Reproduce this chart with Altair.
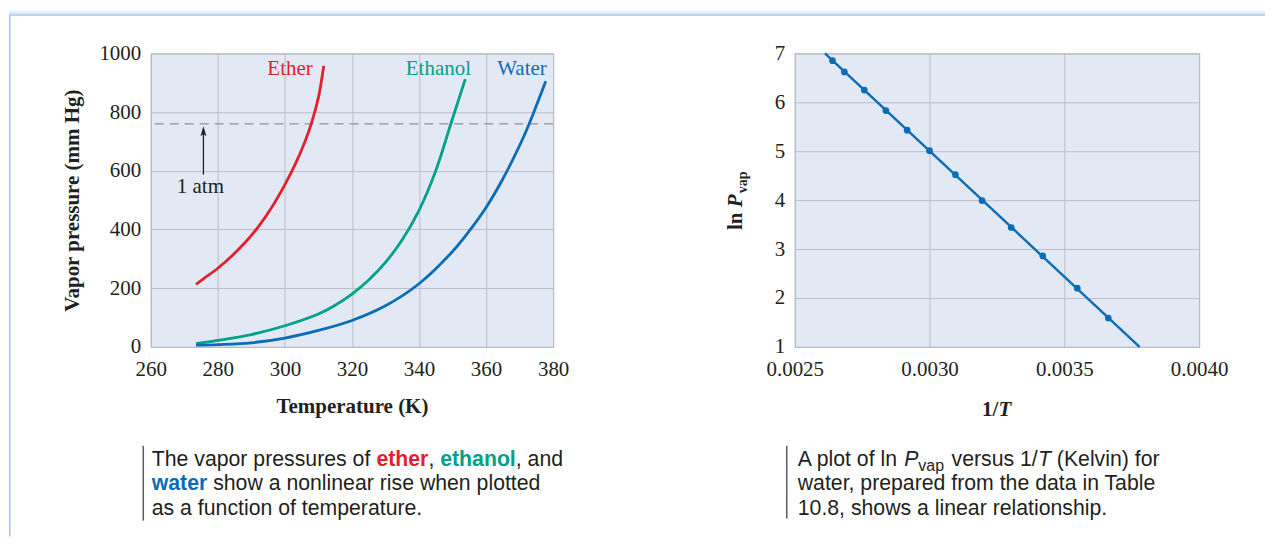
import altair as alt
import pandas as pd

# ---------------- data ----------------
ether_T = [273.5, 276, 280, 284, 288, 292, 296, 300, 303, 306, 308, 310, 311.6]
ether_P = [213, 234, 268, 308, 354, 408, 474, 553, 620, 700, 765, 850, 958]

ethanol_T = [273.5, 280, 290, 300, 310, 315, 320, 325, 330, 335, 340, 345, 349.5, 353.8]
ethanol_P = [11, 22, 42, 72, 112, 142, 180, 228, 288, 365, 465, 600, 760, 912]

water_T = [273.5, 280, 290, 300, 310, 320, 330, 340, 350, 355, 360, 365, 370, 372.5, 377.8]
water_P = [6, 8, 14, 30, 56, 90, 140, 215, 325, 395, 475, 572, 686, 750, 905]

atm_mmHg = 760

inv_T = [0.002640, 0.002684, 0.002758, 0.002838, 0.002917, 0.003000,
         0.003096, 0.003195, 0.003303, 0.003420, 0.003548, 0.003663]
ln_P = [6.85, 6.62, 6.25, 5.83, 5.43, 5.01, 4.52, 3.99, 3.44, 2.86, 2.20, 1.59]
fit_inv_T = [0.002612, 0.003779]
fit_ln_P = [7.0, 1.0]

temp_ticks = [260, 280, 300, 320, 340, 360, 380]
press_ticks = [0, 200, 400, 600, 800, 1000]
invT_ticks = [0.0025, 0.0030, 0.0035, 0.0040]
lnP_ticks = [1, 2, 3, 4, 5, 6, 7]

series_names = ["Ether", "Ethanol", "Water"]
series_colors = ["#e2202e", "#00a08b", "#0a6cb5"]

TEXT = "#231f20"
SERIF = "Liberation Serif"
SANS = "Liberation Sans"
RED, TEAL, BLUE = series_colors

# ---------------- helpers ----------------
dummy = pd.DataFrame({"k": [0]})


def txt(text, x, y, size=21.3, color=TEXT, weight="normal", style="normal",
        font=SANS, align="left", baseline="alphabetic", angle=0):
    return alt.Chart(dummy).mark_text(
        text=text, font=font, fontSize=size, fontWeight=weight, fontStyle=style,
        color=color, align=align, baseline=baseline, angle=angle
    ).encode(x=alt.value(x), y=alt.value(y))


def vbar(x, y1, y2, color="#5c5c5c", width=1.5):
    return alt.Chart(dummy).mark_rule(color=color, strokeWidth=width).encode(
        x=alt.value(x), y=alt.value(y1), y2=alt.value(y2))


# ---------------- left panel ----------------
curves = pd.concat([
    pd.DataFrame({"series": "Ether", "T": ether_T, "P": ether_P}),
    pd.DataFrame({"series": "Ethanol", "T": ethanol_T, "P": ethanol_P}),
    pd.DataFrame({"series": "Water", "T": water_T, "P": water_P}),
])

xsL = alt.Scale(domain=[260, 380], nice=False, zero=False)
ysL = alt.Scale(domain=[0, 1000], nice=False, zero=False)

xL = alt.X("T:Q", scale=xsL, axis=alt.Axis(values=temp_ticks, title="Temperature (K)"))
yL = alt.Y("P:Q", scale=ysL, axis=alt.Axis(values=press_ticks, format="d",
                                          title="Vapor pressure (mm Hg)"))

lines = alt.Chart(curves).mark_line(interpolate="catmull-rom", strokeWidth=2.8).encode(
    x=xL, y=yL,
    color=alt.Color("series:N", scale=alt.Scale(domain=series_names, range=series_colors), legend=None),
)


def dx(v):
    return alt.X(datum=v, scale=xsL)


def dy(v):
    return alt.Y(datum=v, scale=ysL)


atm_line = alt.Chart(dummy).mark_rule(color="#8d9197", strokeWidth=1.2, strokeDash=[9, 6]).encode(
    y=dy(atm_mmHg))
arrow_shaft = alt.Chart(dummy).mark_rule(color=TEXT, strokeWidth=1.3).encode(
    x=dx(275.7), y=dy(587), y2=alt.Y2(datum=742))
arrow_head = alt.Chart(dummy).mark_point(
    shape="M0,-1L0.6,1L0,0.55L-0.6,1Z", filled=True, size=100, color=TEXT, opacity=1, strokeWidth=0
).encode(x=dx(275.7), y=dy(735))
atm_text = alt.Chart(dummy).mark_text(text="1 atm", font=SERIF, fontSize=21, color=TEXT,
                                      align="center", baseline="middle").encode(
    x=dx(274.8), y=dy(545))


def series_label(name, color, t_right):
    return alt.Chart(dummy).mark_text(text=name, font=SERIF, fontSize=21, color=color,
                                      align="right", baseline="middle").encode(
        x=dx(t_right), y=dy(947))


# frame (page white card with light blue border)
frame_glow = alt.Chart(dummy).mark_rect(
    color=alt.LinearGradient(gradient="linear",
                             stops=[alt.GradientStop(color="#ffffff", offset=0),
                                    alt.GradientStop(color="#d3e2f2", offset=1)],
                             x1=0, x2=0, y1=0, y2=1)
).encode(x=alt.value(-142), x2=alt.value(1116), y=alt.value(-44), y2=alt.value(-39))
frame_top = alt.Chart(dummy).mark_rule(color="#a6c6ea", strokeWidth=1.5).encode(
    x=alt.value(-141.2), x2=alt.value(1116), y=alt.value(-38.5))
frame_left = alt.Chart(dummy).mark_rule(color="#a6c6ea", strokeWidth=1.5).encode(
    x=alt.value(-141.2), y=alt.value(-38.5), y2=alt.value(484))

# left caption (origin = left plot top-left at page 150,52)
left_caption = [
    vbar(-7.5, 393, 468),
    txt("The vapor pressures of", 1, 413),
    txt("ether", 226, 413, color=RED, weight="bold"),
    txt(",", 278.1, 413),
    txt("ethanol", 289.9, 413, color=TEAL, weight="bold"),
    txt(", and", 365.6, 413),
    txt("water", 1, 437.5, color=BLUE, weight="bold"),
    txt("show a nonlinear rise when plotted", 62.5, 437.5),
    txt("as a function of temperature.", 1, 462),
]

left = alt.layer(
    frame_glow, frame_top, frame_left,
    atm_line, arrow_shaft, arrow_head, atm_text,
    lines,
    series_label("Ether", RED, 308.3),
    series_label("Ethanol", TEAL, 355.5),
    series_label("Water", BLUE, 378.1),
    *left_caption,
).properties(width=403, height=294)

# ---------------- right panel ----------------
pts = pd.DataFrame({"x": inv_T, "y": ln_P})
fit = pd.DataFrame({"x": fit_inv_T, "y": fit_ln_P})

xR = alt.X("x:Q", scale=alt.Scale(domain=[0.0025, 0.0040], nice=False, zero=False),
           axis=alt.Axis(values=invT_ticks, format=".4f", title=None))
yR = alt.Y("y:Q", scale=alt.Scale(domain=[1, 7], nice=False, zero=False),
           axis=alt.Axis(values=lnP_ticks, title=None))

fit_line = alt.Chart(fit).mark_line(color=BLUE, strokeWidth=2.4).encode(x=xR, y=yR)
points = alt.Chart(pts).mark_circle(color=BLUE, size=45, opacity=1).encode(x=xR, y=yR)

right_titles = [
    txt("ln", -53, 177, size=21, font=SERIF, weight="bold", angle=270),
    txt("P", -53, 154.2, size=21, font=SERIF, weight="bold", style="italic", angle=270),
    txt("vap", -48, 140.2, size=14, font=SERIF, weight="bold", angle=270),
    txt("1/", 204, 363, size=21, font=SERIF, weight="bold", align="right"),
    txt("T", 204, 363, size=21, font=SERIF, weight="bold", style="italic"),
]

right_caption = [
    vbar(-8, 393, 466),
    txt("A plot of ln", 3, 413),
    txt("P", 109.6, 413, style="italic"),
    txt("vap", 123.8, 418, size=16),
    txt("versus 1/", 157, 413),
    txt("T", 243.6, 413, style="italic"),
    txt("(Kelvin) for", 262.5, 413),
    txt("water, prepared from the data in Table", 3, 437.5),
    txt("10.8, shows a linear relationship.", 3, 462),
]

right = alt.layer(fit_line, points, *right_titles, *right_caption).properties(width=405, height=294)

chart = alt.hconcat(left, right, spacing=242, bounds="flush").properties(
    padding={"left": 0, "top": 0, "right": 0, "bottom": 0}
).configure(background="white").configure_view(
    fill="#e2e9f5", stroke="#a9aeb6", strokeWidth=1
).configure_axis(
    labelFont=SERIF, labelFontSize=21, labelColor=TEXT,
    titleFont=SERIF, titleFontSize=21, titleFontWeight="bold", titleColor=TEXT,
    grid=True, gridColor="#b9bec7", gridWidth=1, domain=False, ticks=False, tickSize=0,
    labelFlush=False, labelOverlap=False
).configure_axisX(labelPadding=12, titlePadding=16).configure_axisY(labelPadding=10, titlePadding=16)

chart.save("out.html", embed_options={"renderer": "svg", "actions": False})
